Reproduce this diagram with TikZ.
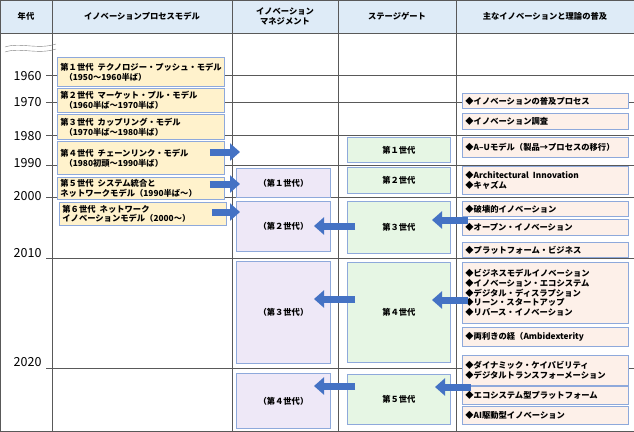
\documentclass[tikz,border=0pt]{standalone}
\usepackage{fontspec}
\setmainfont{Noto Sans CJK JP}
\usetikzlibrary{arrows.meta}

\definecolor{headblue}{HTML}{DEEBF7}
\definecolor{procfill}{HTML}{FFF2CC}
\definecolor{mgmtfill}{HTML}{EEE8F7}
\definecolor{sgfill}{HTML}{E6F6E4}
\definecolor{thfill}{HTML}{FDF0E9}
\definecolor{boxline}{HTML}{8EA9DB}
\definecolor{arrblue}{HTML}{4472C4}

\tikzset{
  txt/.style={font=\fontsize{8.3}{9.8}\selectfont\bfseries},
  cell/.style={txt, draw=boxline, line width=0.8pt, anchor=north west, inner sep=2pt},
  box/.style n args={2}{cell, minimum width=#1pt, minimum height=#2pt},
  proc/.style n args={2}{box={#1}{#2}, fill=procfill, align=left, text width=#1pt-6pt},
  mgmt/.style n args={2}{box={#1}{#2}, fill=mgmtfill, align=center},
  sg/.style n args={2}{box={#1}{#2}, fill=sgfill, align=center},
  th/.style n args={2}{box={#1}{#2}, fill=thfill, align=left, text width=#1pt-6pt},
  grid/.style={draw=gray!70!black, line width=0.6pt},
  year/.style={font=\fontsize{12.5}{12.5}\selectfont\mdseries, anchor=east},
  blk/.style={line width=7pt, draw=arrblue, -{Triangle[length=10pt, width=17pt]}},
}

\begin{document}
\begin{tikzpicture}[x=1pt, y=-1pt]
\useasboundingbox (0,0) rectangle (634,431);

% header and grid
\fill[headblue] (0,0) rectangle (634,33);
\foreach \x in {52,232,338,456}
  \draw[grid] (\x,0) -- (\x,431);
\draw[grid] (0,0) rectangle (634,431);
\draw[grid] (0,33) -- (634,33);
\foreach \y in {75,102,135,165,197,258,368}
  \draw[grid] (46,\y) -- (634,\y);

\node[txt] (h1) at (26,16) {年代};
\node[txt] (h2) at (142,16) {イノベーションプロセスモデル};
\node[txt, align=center] (h3) at (285,16) {イノベーション\\マネジメント};
\node[txt] (h4) at (397,16) {ステージゲート};
\node[txt] (h5) at (545,16) {主なイノベーションと理論の普及};

% break marks
\draw[gray] (5,47) .. controls (20,42) and (38,50) .. (56,44);
\draw[gray] (5,52) .. controls (20,47) and (38,55) .. (56,49);

% years
\node[year] (y1960) at (45,76) {1960};
\node[year] (y1970) at (45,102) {1970};
\node[year] (y1980) at (45,136) {1980};
\node[year] (y1990) at (45,163) {1990};
\node[year] (y2000) at (45,196) {2000};
\node[year] (y2010) at (45,253) {2010};
\node[year] (y2020) at (45,362) {2020};

% process models
\node[proc={167}{29}] (p1) at (57,57) {第１世代\enspace テクノロジー・プッシュ・モデル\\\enspace（1950～1960半ば）};
\node[proc={167}{24}] (p2) at (57,88) {第２世代\enspace マーケット・プル・モデル\\\enspace（1960半ば～1970半ば）};
\node[proc={167}{25}] (p3) at (57,114) {第３世代\enspace カップリング・モデル\\\enspace（1970半ば～1980半ば）};
\node[proc={167}{33}] (p4) at (57,141) {第４世代\enspace チェーンリンク・モデル\\\enspace（1980初頭～1990半ば）};
\node[proc={167}{22}] (p5) at (57,177) {第５世代\enspace システム統合と\\ネットワークモデル（1990半ば～）};
\node[proc={167}{23}] (p6) at (59,202) {第６世代\enspace ネットワーク\\イノベーションモデル（2000～）};

% management
\node[mgmt={94}{29}] (m1) at (236,168) {（第１世代）};
\node[mgmt={94}{50}] (m2) at (236,201) {（第２世代）};
\node[mgmt={94}{102}] (m3) at (236,261) {（第３世代）};
\node[mgmt={94}{55}] (m4) at (236,373) {（第４世代）};

% stage gate
\node[sg={103}{25}] (s1) at (347,137) {第１世代};
\node[sg={103}{26}] (s2) at (347,167) {第２世代};
\node[sg={103}{52}] (s3) at (347,201) {第３世代};
\node[sg={103}{100}] (s4) at (347,262) {第４世代};
\node[sg={103}{50}] (s5) at (347,374) {第５世代};

% theories
\node[th={166}{15}] (t1) at (462,93) {◆イノベーションの普及プロセス};
\node[th={166}{16}] (t2) at (462,113) {◆イノベーション調査};
\node[th={166}{20}] (t3) at (462,137) {◆A–Uモデル（製品→プロセスの移行）};
\node[th={166}{28}] (t4) at (462,166) {◆Architectural\enspace Innovation\\◆キャズム};
\node[th={166}{15}] (t5) at (462,201) {◆破壊的イノベーション};
\node[th={166}{16}] (t6) at (462,219) {◆オープン・イノベーション};
\node[th={166}{15}] (t7) at (462,242) {◆プラットフォーム・ビジネス};
\node[th={166}{61}] (t8) at (462,262) {◆ビジネスモデルイノベーション\\◆イノベーション・エコシステム\\◆デジタル・ディスラプション\\◆リーン・スタートアップ\\◆リバース・イノベーション};
\node[th={166}{19}] (t9) at (462,327) {◆両利きの経（Ambidexterity};
\node[th={166}{30}] (t10) at (462,355) {◆ダイナミック・ケイパビリティ\\◆デジタルトランスフォーメーション};
\node[th={166}{18}] (t11) at (462,386) {◆エコシステム型プラットフォーム};
\node[th={166}{18}] (t12) at (462,406) {◆AI駆動型イノベーション};

% arrows
\coordinate (a4) at (240,152);
\coordinate (a5) at (240,184);
\coordinate (a6) at (240,212);
\draw[blk] (p4.east |- a4) ++(-15,0) -- (a4);
\draw[blk] (p5.east |- a5) ++(-15,0) -- (a5);
\draw[blk] (p6.east |- a6) ++(-15,0) -- (a6);

\coordinate (b3) at (314,226);
\coordinate (b4) at (314,299);
\coordinate (b5) at (314,386);
\draw[blk] (355,226) -- (b3);
\draw[blk] (355,299) -- (b4);
\draw[blk] (355,386) -- (b5);

\coordinate (c3) at (432,220);
\coordinate (c4) at (432,300);
\coordinate (c5) at (435,387);
\draw[blk] (468,220) -- (c3);
\draw[blk] (468,300) -- (c4);
\draw[blk] (471,387) -- (c5);
\end{tikzpicture}
\end{document}
